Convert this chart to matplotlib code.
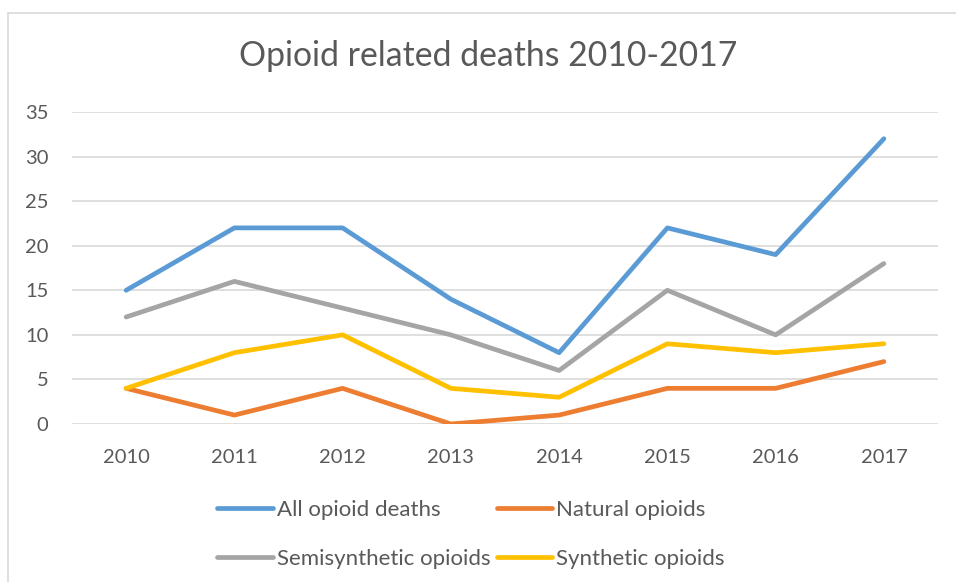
import numpy as np
import matplotlib.pyplot as plt
from matplotlib.patches import Rectangle

years = ['2010', '2011', '2012', '2013', '2014', '2015', '2016', '2017']
all_opioid = [15, 22, 22, 14, 8, 22, 19, 32]
natural = [4, 1, 4, 0, 1, 4, 4, 7]
semisynthetic = [12, 16, 13, 10, 6, 15, 10, 18]
synthetic = [4, 8, 10, 4, 3, 9, 8, 9]

series = [
    ('All opioid deaths', all_opioid, '#5B9BD5'),
    ('Natural opioids', natural, '#ED7D31'),
    ('Semisynthetic opioids', semisynthetic, '#A5A5A5'),
    ('Synthetic opioids', synthetic, '#FFC000'),
]

W, H = 956, 582
plt.rcParams['font.family'] = ['Lato', 'DejaVu Sans']
text_col = '#595959'
grid_col = '#D9D9D9'

fig = plt.figure(figsize=(W / 100, H / 100), dpi=100)

# chart border, runs off the right and bottom edges
fig.patches.append(Rectangle((8 / W, -0.1), 1.2, (H - 13) / H + 0.1,
                             transform=fig.transFigure, fill=False,
                             edgecolor=grid_col, linewidth=1.2))

left, right, top, bottom = 72, 938, 112, 424
ax = fig.add_axes([left / W, (H - bottom) / H, (right - left) / W, (bottom - top) / H])

x = np.arange(len(years))
lines = {}
for name, vals, col in series:
    lines[name], = ax.plot(x, vals, color=col, linewidth=3.4,
                           solid_joinstyle='round', solid_capstyle='round',
                           label=name, zorder=3)

ax.set_xlim(-0.5, len(years) - 0.5)
ax.set_ylim(0, 35)
ax.set_yticks(range(0, 36, 5))
ax.set_xticks(x)
ax.set_xticklabels(years)
ax.yaxis.grid(True, color=grid_col, linewidth=1.2)
ax.set_axisbelow(True)
for s in ax.spines.values():
    s.set_visible(False)
ax.tick_params(length=0, labelsize=14.5, labelcolor=text_col)
ax.tick_params(axis='x', pad=18)
ax.tick_params(axis='y', pad=17)

fig.text(488 / W, 1 - 56 / H, 'Opioid related deaths 2010-2017',
         ha='center', va='center', fontsize=24.3, color=text_col)

order = ['All opioid deaths', 'Semisynthetic opioids', 'Natural opioids', 'Synthetic opioids']
leg = fig.legend([lines[n] for n in order], order, ncol=2,
                 loc='upper left', bbox_to_anchor=(217 / W, 1 - 500 / H),
                 frameon=False, fontsize=16, handlelength=2.5,
                 handletextpad=0.18, columnspacing=0.3, labelspacing=1.3,
                 borderaxespad=0, borderpad=0)
for t in leg.get_texts():
    t.set_color(text_col)

fig.savefig('out.png', dpi=100)
